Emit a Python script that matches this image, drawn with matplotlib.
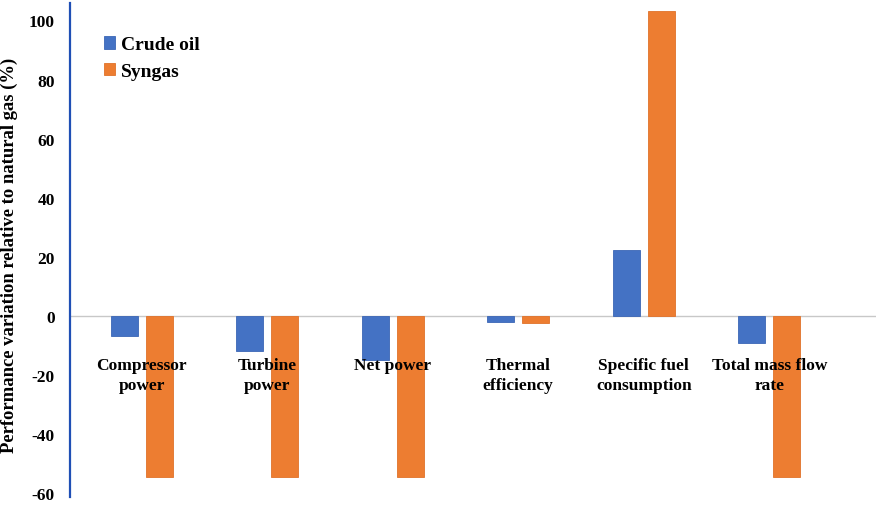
"""Performance variation of crude oil and syngas relative to natural gas."""

import matplotlib.pyplot as plt
import numpy as np

categories = [
    "Compressor\npower",
    "Turbine\npower",
    "Net power",
    "Thermal\nefficiency",
    "Specific fuel\nconsumption",
    "Total mass flow\nrate",
]
crude_oil = [-6.8, -11.8, -14.8, -2.2, 22.3, -9.1]
syngas = [-54.5, -54.5, -54.5, -2.5, 103.2, -54.5]
y_ticks = [-60, -40, -20, 0, 20, 40, 60, 80, 100]

BLUE = "#4472C4"
ORANGE = "#ED7D31"
SERIF = "Liberation Serif"


def main() -> None:
    fig = plt.figure(figsize=(8.76, 5.06), dpi=100)
    ax = fig.add_axes([0.0799, 0.0158, 0.9201, 0.9763])

    x = np.arange(len(categories))
    width = 0.215
    offset = 0.14
    ax.bar(x - offset, crude_oil, width, color=BLUE, edgecolor="#3b66b5",
           linewidth=0.6, label="Crude oil", zorder=3)
    ax.bar(x + offset, syngas, width, color=ORANGE, edgecolor="#e0722a",
           linewidth=0.6, label="Syngas", zorder=3)

    ax.axhline(0, color="#c8c8c8", linewidth=1.0, zorder=2)

    ax.set_xlim(-0.572, 5.85)
    ax.set_ylim(-61.3, 105.9)
    ax.set_yticks(y_ticks)
    ax.set_yticklabels([str(v) for v in y_ticks], family=SERIF,
                       fontweight="bold", fontsize=12.5)
    ax.tick_params(axis="y", length=0, pad=11)
    ax.set_xticks([])

    for side in ("top", "right", "bottom"):
        ax.spines[side].set_visible(False)
    ax.spines["left"].set_color("#1f4fb5")
    ax.spines["left"].set_linewidth(1.6)

    for xi, label in zip(x, categories):
        ax.text(xi, -14.0, label, ha="center", va="top", family=SERIF,
                fontweight="bold", fontsize=12.5, linespacing=1.3, zorder=4)

    fig.text(0.011, 0.495, "Performance variation relative to natural gas (%)",
             rotation=90, ha="center", va="center", family=SERIF,
             fontweight="bold", fontsize=13.4)

    ax.legend(loc="upper left", bbox_to_anchor=(0.02, 0.968), frameon=False,
              prop={"family": SERIF, "weight": "bold", "size": 14},
              handlelength=0.6, handleheight=0.6, handletextpad=0.3,
              labelspacing=0.5)

    fig.savefig("out.png", dpi=100)
    plt.close(fig)


if __name__ == "__main__":
    main()
